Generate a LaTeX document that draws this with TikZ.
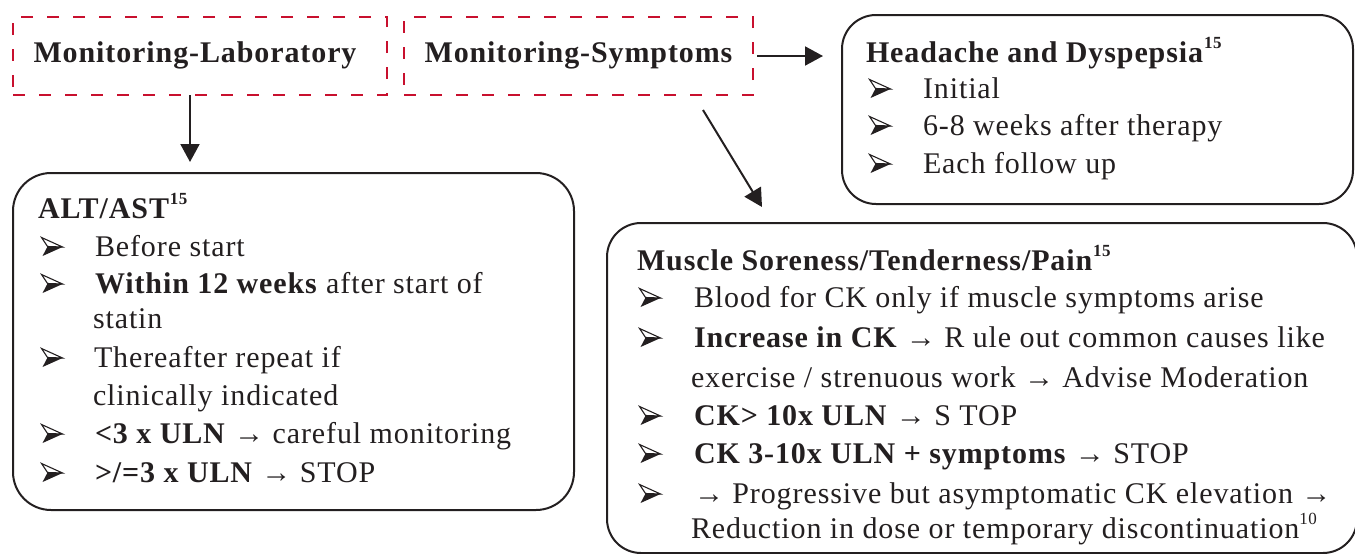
\documentclass[tikz,border=0pt]{standalone}
\usepackage{fontspec}
\setmainfont{Liberation Serif}[LetterSpace=3]
\usetikzlibrary{arrows.meta}
\definecolor{ink}{RGB}{35,31,32}
\definecolor{dred}{RGB}{200,16,46}
\newcommand{\supr}[1]{\raisebox{0.45em}{\fontsize{17}{17}\selectfont #1}}
\newcommand{\bul}{\tikz[baseline=0pt,x=1pt,y=1pt]{%
  \fill[ink] (6,9.5) -- (21,9) -- (1,0) -- cycle;
  \draw[ink, line width=1.1pt, line join=miter] (6,9.5) -- (0,18.5) -- (21,9) -- cycle;}}
\tikzset{
  dbox/.style={draw=dred, line width=1.8pt, dash pattern=on 12pt off 14pt,
    anchor=north west, inner sep=0pt, outer sep=0pt, text=ink,
    font=\bfseries\fontsize{30}{36}\selectfont},
  rbox/.style={draw=ink, line width=2pt, rounded corners=38pt,
    anchor=north west, inner sep=0pt, outer sep=0pt},
  conn/.style={draw=ink, line width=2pt, -{Triangle[length=18pt,width=19pt]}},
  txt/.style={anchor=base west, inner sep=0pt, outer sep=0pt, text=ink,
    font=\fontsize{30}{36}\selectfont},
  bl/.style={anchor=base west, inner sep=0pt, outer sep=0pt},
}
\begin{document}
\begin{tikzpicture}[x=1pt,y=-1pt]
\useasboundingbox (0,0) rectangle (1355,554);
% dashed header boxes
\node[dbox, minimum width=374pt, minimum height=78pt, text depth=8pt] (labm) at (13,17) {\hspace*{-10pt}Monitoring-Laboratory};
\node[dbox, minimum width=349pt, minimum height=78pt, text depth=8pt] (symm) at (404,17) {Monitoring-Symptoms};
% rounded boxes
\node[rbox, minimum width=561pt, minimum height=337pt] (alt) at (13,173) {};
\node[rbox, rounded corners=34pt, minimum width=511pt, minimum height=189pt] (head) at (842,15) {};
\node[rbox, rounded corners=34pt, minimum width=750pt, minimum height=330pt] (mus) at (607,223) {};
% connectors
\draw[conn] ([xshift=-10pt]labm.south) -- ([xshift=-10pt,yshift=11pt]labm.south |- alt.north);
\draw[conn] ([xshift=4pt]symm.east) -- ([xshift=-19pt]head.west |- symm.east);
\draw[conn] ([xshift=-50pt,yshift=-15pt]symm.south east) -- ([xshift=155pt,yshift=16pt]mus.north west);
% Headache box text
\node[txt] (h0) at (866,62) {\textbf{Headache and Dyspepsia}\supr{\textbf{15}}};
\node[bl] (hb1) at (869,98) {\bul};
\node[txt] (h1) at (923,98) {Initial};
\node[bl] (hb2) at (869,135) {\bul};
\node[txt] (h2) at (923,135) {6-8 weeks after therapy};
\node[bl] (hb3) at (869,173) {\bul};
\node[txt] (h3) at (923,173) {Each follow up};
% ALT box text
\node[txt] (a0) at (38,218) {\textbf{ALT/AST}\supr{\textbf{15}}};
\node[bl] (ab1) at (41,256) {\bul};
\node[txt] (a1) at (95,256) {Before start};
\node[bl] (ab2) at (41,293) {\bul};
\node[txt] (a2) at (95,293) {\textbf{Within 12 weeks} after start of};
\node[txt] (a2b) at (93,328) {statin};
\node[bl] (ab3) at (41,367) {\bul};
\node[txt] (a3) at (94,367) {Thereafter repeat if};
\node[txt] (a3b) at (93,405) {clinically indicated};
\node[bl] (ab4) at (41,443) {\bul};
\node[txt] (a4) at (95,443) {\textbf{<3 x ULN} → careful monitoring};
\node[bl] (ab5) at (41,482) {\bul};
\node[txt] (a5) at (95,482) {\textbf{>/=3 x ULN} → STOP};
% Muscle box text
\node[txt] (m0) at (637,270) {\textbf{Muscle Soreness/Tenderness/Pain}\supr{\textbf{15}}};
\node[bl] (mb1) at (639,307) {\bul};
\node[txt] (m1) at (694,307) {Blood for CK only if muscle symptoms arise};
\node[bl] (mb2) at (639,347) {\bul};
\node[txt] (m2) at (694,347) {\textbf{Increase in CK} → R ule out common causes like};
\node[txt] (m2b) at (691,387) {exercise / strenuous work → Advise Moderation};
\node[bl] (mb3) at (639,425) {\bul};
\node[txt] (m3) at (694,425) {\textbf{CK> 10x ULN} → S TOP};
\node[bl] (mb4) at (639,463) {\bul};
\node[txt] (m4) at (694,463) {\textbf{CK 3-10x ULN + symptoms} → STOP};
\node[bl] (mb5) at (639,503) {\bul};
\node[txt] (m5) at (694,503) {→ Progressive but asymptomatic CK elevation →};
\node[txt] (m5b) at (691,538) {Reduction in dose or temporary discontinuation\supr{10}};
\end{tikzpicture}
\end{document}
